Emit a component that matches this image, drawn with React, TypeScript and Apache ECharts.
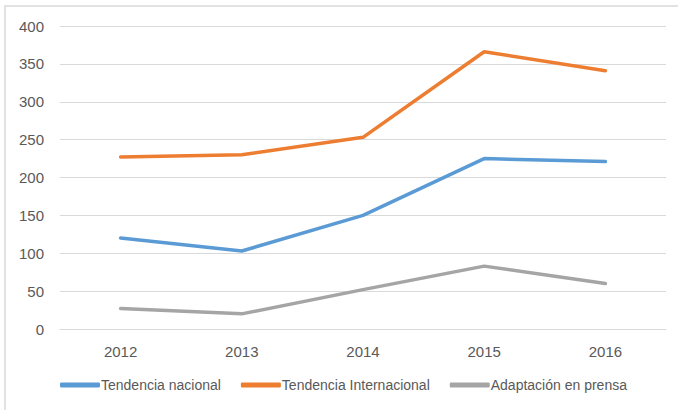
import React, { useEffect, useRef } from "react";
import * as echarts from "echarts";

const years = ["2012", "2013", "2014", "2015", "2016"];
const nacional = [120, 103, 150, 225, 221];
const internacional = [227, 230, 253, 366, 341];
const prensa = [27, 20, 52, 83, 60];

const seriesNames = ["Tendencia nacional", "Tendencia Internacional", "Adaptación en prensa"];
const seriesColors = ["#5B9BD5", "#ED7D31", "#A5A5A5"];

const FONT = "'Liberation Sans', Arial, sans-serif";

export default function App() {
  const ref = useRef<HTMLDivElement>(null);

  useEffect(() => {
    if (!ref.current) return;
    const chart = echarts.init(ref.current, undefined, { renderer: "svg" });
    const data = [nacional, internacional, prensa];
    chart.setOption({
      animation: false,
      backgroundColor: "#ffffff",
      graphic: [
        {
          type: "rect",
          shape: { x: 5, y: 6, width: 690, height: 420 },
          style: { fill: "none", stroke: "#d9d9d9", lineWidth: 1.5 },
          silent: true,
        },
      ],
      grid: { left: 60, right: 12, top: 26, bottom: 81, containLabel: false },
      legend: {
        left: 60,
        top: 378,
        padding: 0,
        icon: "roundRect",
        itemWidth: 40,
        itemHeight: 5,
        itemGap: 20,
        textStyle: { fontFamily: FONT, fontSize: 14, color: "#595959", padding: [0, 0, 0, -4] },
        data: seriesNames,
      },
      xAxis: {
        type: "category",
        data: years,
        boundaryGap: true,
        axisLine: { show: true, lineStyle: { color: "#d9d9d9", width: 1 } },
        axisTick: { show: false },
        axisLabel: { fontFamily: FONT, fontSize: 15, color: "#595959", margin: 15 },
      },
      yAxis: {
        type: "value",
        min: 0,
        max: 400,
        interval: 50,
        axisLine: { show: false },
        axisTick: { show: false },
        axisLabel: { fontFamily: FONT, fontSize: 15, color: "#595959", margin: 16 },
        splitLine: { lineStyle: { color: "#d9d9d9", width: 1 } },
      },
      series: seriesNames.map((name, i) => ({
        name,
        type: "line",
        data: data[i],
        symbol: "none",
        smooth: false,
        itemStyle: { color: seriesColors[i] },
        lineStyle: { color: seriesColors[i], width: 3.5, cap: "round", join: "round" },
      })),
    });
    return () => chart.dispose();
  }, []);

  return (
    <div
      ref={ref}
      style={{ position: "fixed", left: 0, top: 0, width: 678, height: 410 }}
    />
  );
}
